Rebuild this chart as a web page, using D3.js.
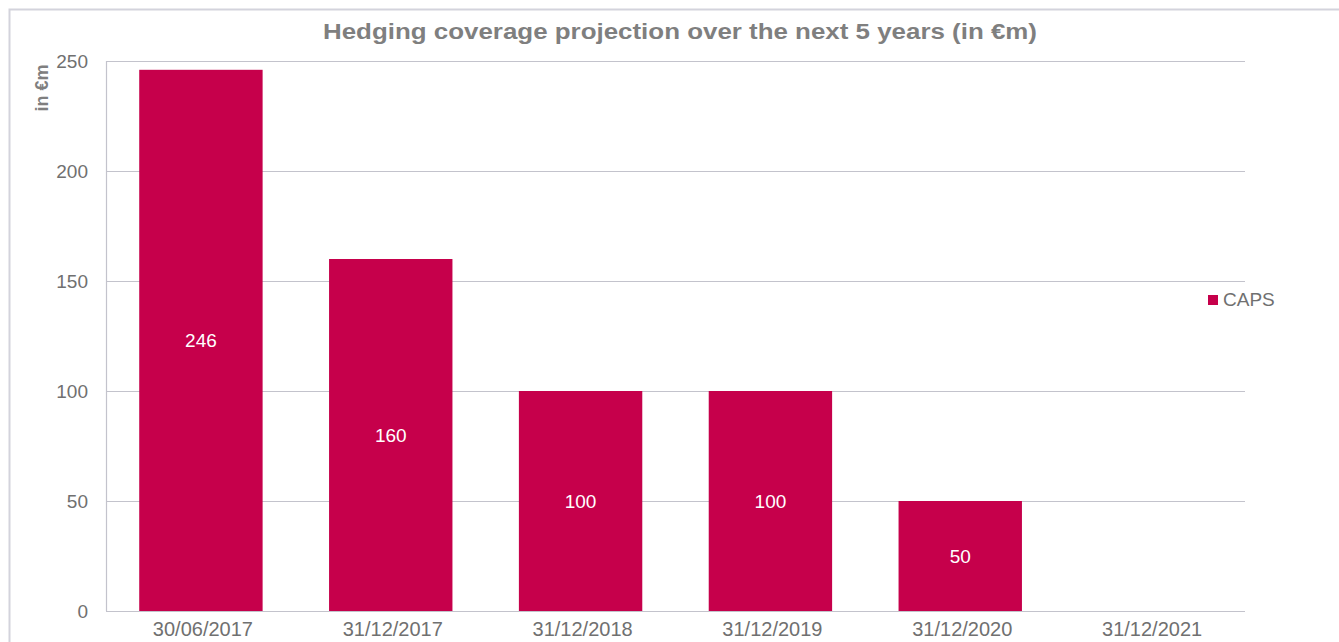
<!DOCTYPE html>
<html>
<head>
<meta charset="utf-8">
<script src="https://cdn.jsdelivr.net/npm/d3@7"></script>
<style>
  html, body { margin: 0; padding: 0; background: #fff; }
  svg { display: block; font-family: "Liberation Sans", Arial, sans-serif; }
</style>
</head>
<body>
<svg id="chart" width="1339" height="642"></svg>
<script>
// Hedging coverage (CAPS) by reporting date, in €m
const dates = ["30/06/2017", "31/12/2017", "31/12/2018", "31/12/2019", "31/12/2020", "31/12/2021"];
const capsValues = [246, 160, 100, 100, 50, 0];
const yTicks = [0, 50, 100, 150, 200, 250];
const seriesName = "CAPS";
const chartTitle = "Hedging coverage projection over the next 5 years (in €m)";
const yAxisTitle = "in €m";

const svg = d3.select("#chart");
const barColor = "#C6004B";
const gridColor = "#C3C3CC";
const textGray = "#707070";

const plot = { left: 106, right: 1245, top: 61, bottom: 611 };

// outer chart frame
svg.append("path")
  .attr("d", "M9.5,650 V9.5 H1345")
  .attr("fill", "none")
  .attr("stroke", "#D3D3DC")
  .attr("stroke-width", 2);

const x = d3.scaleBand()
  .domain(dates)
  .range([plot.left, plot.right])
  .paddingInner(0.35)
  .paddingOuter(0.175);

const y = d3.scaleLinear()
  .domain([0, 250])
  .range([plot.bottom, plot.top]);

// horizontal gridlines
svg.append("g")
  .selectAll("line")
  .data(yTicks)
  .join("line")
  .attr("x1", plot.left)
  .attr("x2", plot.right)
  .attr("y1", d => Math.round(y(d)) + 0.5)
  .attr("y2", d => Math.round(y(d)) + 0.5)
  .attr("stroke", gridColor)
  .attr("stroke-width", 1.2);

// left axis line
svg.append("line")
  .attr("x1", plot.left + 0.5).attr("x2", plot.left + 0.5)
  .attr("y1", plot.top).attr("y2", plot.bottom)
  .attr("stroke", gridColor)
  .attr("stroke-width", 1.2);

// y tick labels
const yAxis = d3.axisLeft(y).tickValues(yTicks).tickSize(0).tickPadding(18);
const gy = svg.append("g")
  .attr("transform", `translate(${plot.left},0)`)
  .call(yAxis);
gy.select(".domain").remove();
gy.selectAll("text")
  .attr("font-size", 19)
  .attr("fill", textGray)
  .attr("font-family", "Liberation Sans, Arial, sans-serif");

// x tick labels
const xAxis = d3.axisBottom(x).tickSize(0).tickPadding(11);
const gx = svg.append("g")
  .attr("transform", `translate(2,${plot.bottom})`)
  .call(xAxis);
gx.select(".domain").remove();
gx.selectAll("text")
  .attr("font-size", 20)
  .attr("fill", textGray)
  .attr("font-family", "Liberation Sans, Arial, sans-serif");

// bars
const barData = dates.map((d, i) => ({ date: d, value: capsValues[i] }));
svg.append("g")
  .selectAll("rect")
  .data(barData.filter(d => d.value > 0))
  .join("rect")
  .attr("x", d => x(d.date))
  .attr("width", x.bandwidth())
  .attr("y", d => y(d.value))
  .attr("height", d => y(0) - y(d.value))
  .attr("fill", barColor);

// value labels centred in each bar
svg.append("g")
  .selectAll("text")
  .data(barData.filter(d => d.value > 0))
  .join("text")
  .attr("x", d => x(d.date) + x.bandwidth() / 2)
  .attr("y", d => (y(d.value) + y(0)) / 2)
  .attr("dy", "0.35em")
  .attr("text-anchor", "middle")
  .attr("font-size", 19)
  .attr("fill", "#ffffff")
  .text(d => d.value);

// title
svg.append("text")
  .attr("x", 323)
  .attr("y", 39)
  .attr("font-size", 21.5)
  .attr("font-weight", "bold")
  .attr("fill", "#7F7F7F")
  .attr("textLength", 714)
  .attr("lengthAdjust", "spacingAndGlyphs")
  .text(chartTitle);

// y axis title
svg.append("text")
  .attr("transform", "translate(48,88) rotate(-90)")
  .attr("text-anchor", "middle")
  .attr("font-size", 18)
  .attr("font-weight", "bold")
  .attr("fill", "#7F7F7F")
  .text(yAxisTitle);

// legend
const legend = svg.append("g").attr("transform", "translate(1208,295)");
legend.append("rect")
  .attr("width", 10).attr("height", 10)
  .attr("fill", barColor);
legend.append("text")
  .attr("x", 15)
  .attr("y", 10.5)
  .attr("font-size", 19)
  .attr("fill", textGray)
  .text(seriesName);
</script>
</body>
</html>
